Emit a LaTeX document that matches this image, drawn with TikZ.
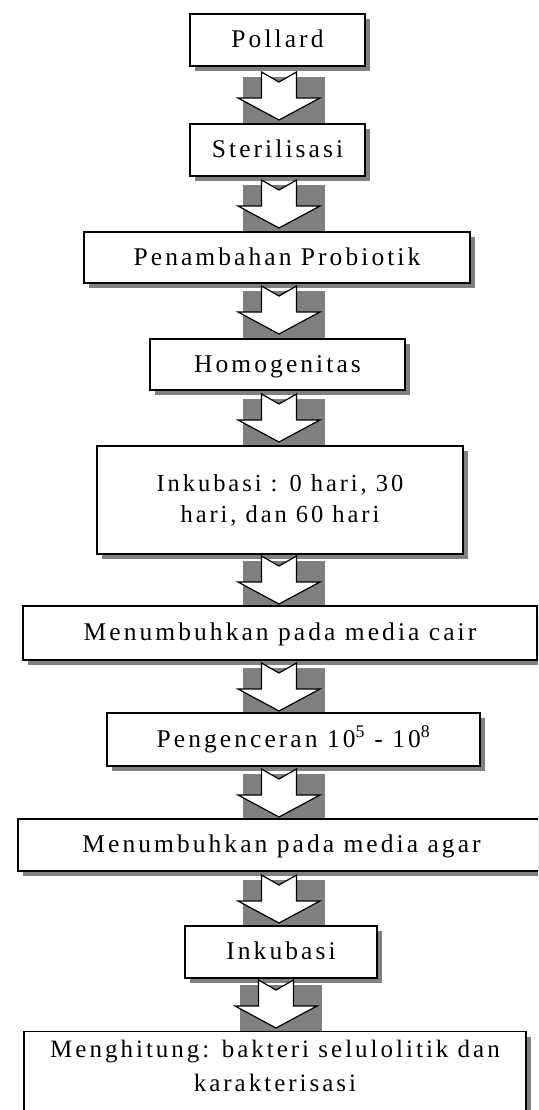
\documentclass[tikz,border=0pt]{standalone}
\usepackage{fontspec}
\setmainfont{Liberation Serif}
\newfontfamily\lsA{Liberation Serif}[LetterSpace=12]
\newfontfamily\lsB{Liberation Serif}[LetterSpace=12]
\usetikzlibrary{shadows}
\definecolor{sgray}{RGB}{128,128,128}
\tikzset{
  box/.style={draw=black, line width=1.3pt, fill=white, rectangle, inner sep=0pt,
    drop shadow={shadow xshift=5pt, shadow yshift=-5pt, opacity=1, fill=sgray},
    font=\lsA\fontsize{25.5}{34}\selectfont, text height=17.3pt, text depth=2.3pt},
  arrowshadow/.pic={\fill[sgray] (-36,5) rectangle (46,53);},
  blockarrow/.pic={\draw[line width=1.2pt, fill=white, line join=miter]
    (-17.5,0) -- (0,10) -- (17.5,0) -- (17.5,26) -- (41,26) -- (0,48) -- (-41,26) -- (-17.5,26) -- cycle;}
}
\newcommand{\bx}[6]{% name, left, top, right, bottom, text
  \node[box, minimum width={(#4)-(#2)}, minimum height={(#5)-(#3)}] (#1) at ({((#2)+(#4))/2},{((#3)+(#5))/2}) {#6};}
\begin{document}
\begin{tikzpicture}[x=1pt,y=-1pt]
\useasboundingbox (0,0) rectangle (538,1110);
\clip (0,0) rectangle (538,1110);
\foreach \c/\t in {279/72,279/180,279/286,279/394,279/556,279/663,279/769,279/875,276/980}{
  \pic at (\c,\t) {arrowshadow};
}
\bx{b1}{190}{14}{365}{66}{Pollard}
\bx{b2}{190}{124}{365}{176}{Sterilisasi}
\bx{b3}{84}{232}{470}{283}{Penambahan Probiotik}
\bx{b4}{150}{339}{405}{390}{Homogenitas}
\node[box, minimum width=366, minimum height=108, align=center,
  font=\lsB\fontsize{24.5}{31}\selectfont, text height=, text depth=] (b5) at (280,500)
  {Inkubasi : 0 hari, 30\\hari, dan 60 hari};
\bx{b6}{23}{606}{537}{660}{Menumbuhkan pada media cair}
\bx{b7}{107}{713}{480}{766}{Pengenceran 10\textsuperscript{5} - 10\textsuperscript{8}}
\bx{b8}{18}{819}{545}{871}{Menumbuhkan pada media agar}
\bx{b9}{185}{926}{377}{978}{Inkubasi}
\node[box, minimum width=502, minimum height=110, anchor=north] (b10) at (275,1031) {};
\node[font=\lsA\fontsize{25}{34}\selectfont, align=center, anchor=north, inner sep=0pt] (t10)
  at (275,1039.6) {Menghitung: bakteri selulolitik dan\\karakterisasi};
\foreach \c/\t in {279/72,279/180,279/286,279/394,279/556,279/663,279/769,279/875,276/980}{
  \pic at (\c,\t) {blockarrow};
}
\end{tikzpicture}
\end{document}
